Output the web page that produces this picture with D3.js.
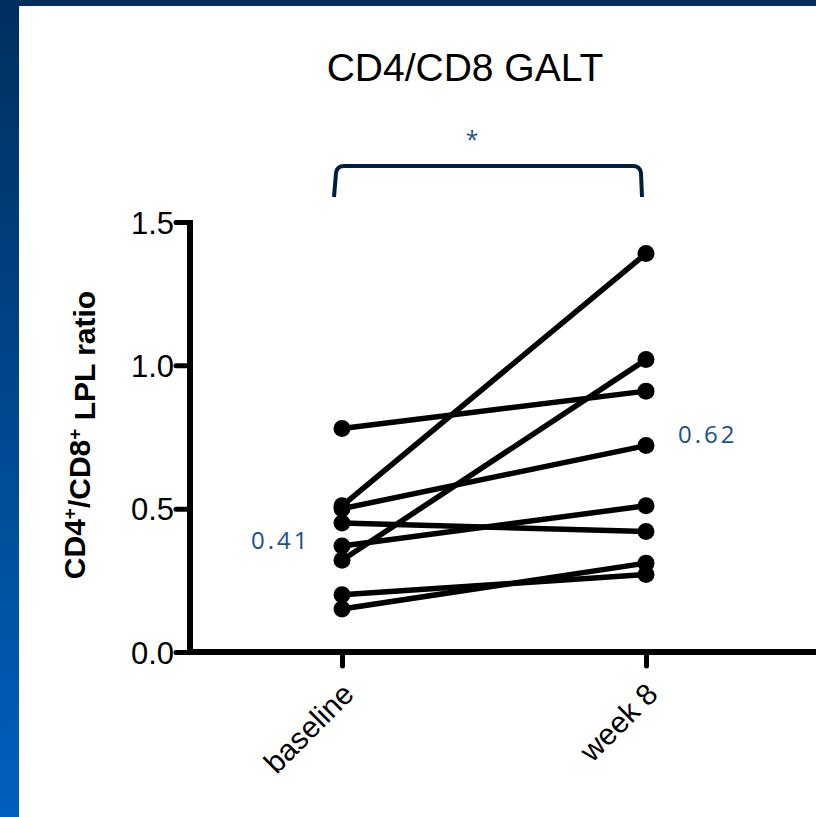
<!DOCTYPE html>
<html>
<head>
<meta charset="utf-8">
<script src="https://cdn.jsdelivr.net/npm/d3@7"></script>
<style>
  body { margin: 0; background: #fff; }
  text { font-family: "Liberation Sans", Arial, sans-serif; }
  .note { font-family: "Open Sans", "DejaVu Sans", sans-serif; fill: #1d4f8a; }
</style>
</head>
<body>
<div id="chart"></div>
<script>
// categories and paired values
const timepoints = ['baseline', 'week 8'];
const baselineValues = [0.78, 0.51, 0.50, 0.45, 0.37, 0.32, 0.20, 0.15];
const week8Values = [0.91, 1.39, 0.72, 0.42, 0.51, 1.02, 0.27, 0.31];
const yTicks = [0, 0.5, 1.0, 1.5];
const medianLabels = ['0.41', '0.62'];

const width = 816, height = 817;

const svg = d3.select('#chart').append('svg')
    .attr('width', width)
    .attr('height', height);

// slide frame: dark top strip and a blue gradient bar on the left
const defs = svg.append('defs');
const grad = defs.append('linearGradient')
    .attr('id', 'sidebar')
    .attr('x1', '0%').attr('y1', '0%')
    .attr('x2', '0%').attr('y2', '100%');
grad.append('stop').attr('offset', '0%').attr('stop-color', '#002f5f');
grad.append('stop').attr('offset', '100%').attr('stop-color', '#0060be');

svg.append('rect').attr('x', 0).attr('y', 0).attr('width', width).attr('height', 6).attr('fill', '#002f5f');
svg.append('rect').attr('x', 0).attr('y', 0).attr('width', 19).attr('height', height).attr('fill', 'url(#sidebar)');

// scales
const x = d3.scalePoint()
    .domain(timepoints)
    .range([190, 798])
    .padding(0.5);

const y = d3.scaleLinear()
    .domain([0, 1.5])
    .range([652, 222]);

// title
svg.append('text')
    .attr('x', 465)
    .attr('y', 81)
    .attr('text-anchor', 'middle')
    .style('font-size', '39px')
    .text('CD4/CD8 GALT');

// y axis
const yAxis = svg.append('g')
    .attr('transform', 'translate(190,0)')
    .call(d3.axisLeft(y).tickValues(yTicks).tickFormat(d3.format('.1f')).tickSize(14).tickSizeOuter(0));

yAxis.select('.domain')
    .attr('stroke', '#000')
    .attr('stroke-width', 6)
    .attr('d', `M0,${y(1.5) - 2}V${y(0) + 3}`);
yAxis.selectAll('.tick line')
    .attr('stroke', '#000')
    .attr('stroke-width', 5)
    .attr('stroke-linecap', 'round');
yAxis.selectAll('.tick text')
    .attr('x', -16)
    .attr('dy', '0.36em')
    .style('font-size', '31px')
    .style('font-family', '"Liberation Sans", Arial, sans-serif')
    .attr('fill', '#000');

// x axis
const xAxis = svg.append('g')
    .attr('transform', `translate(0,${y(0)})`)
    .call(d3.axisBottom(x).tickSize(14).tickSizeOuter(0));

xAxis.select('.domain')
    .attr('stroke', '#000')
    .attr('stroke-width', 6)
    .attr('d', 'M187,0H816');
xAxis.selectAll('.tick line')
    .attr('stroke', '#000')
    .attr('stroke-width', 5)
    .attr('stroke-linecap', 'round');
xAxis.selectAll('.tick text')
    .attr('text-anchor', 'end')
    .attr('y', 0)
    .attr('dy', 0)
    .attr('transform', 'translate(13,44) rotate(-45)')
    .style('font-size', '30px')
    .style('font-family', '"Liberation Sans", Arial, sans-serif')
    .attr('fill', '#000');

// y axis title
const yTitle = svg.append('text')
    .attr('transform', 'translate(85,435) rotate(-90)')
    .attr('text-anchor', 'middle')
    .style('font-size', '30px')
    .style('font-weight', 'bold');
yTitle.append('tspan').text('CD4');
yTitle.append('tspan').attr('dy', '-0.45em').style('font-size', '19px').text('+');
yTitle.append('tspan').attr('dy', '0.45em').text('/CD8');
yTitle.append('tspan').attr('dy', '-0.45em').style('font-size', '19px').text('+');
yTitle.append('tspan').attr('dy', '0.45em').text(' LPL ratio');

// paired lines
const pairs = baselineValues.map((b, i) => [b, week8Values[i]]);

svg.append('g')
    .selectAll('line')
    .data(pairs)
    .join('line')
    .attr('x1', x(timepoints[0]))
    .attr('y1', d => y(d[0]))
    .attr('x2', x(timepoints[1]))
    .attr('y2', d => y(d[1]))
    .attr('stroke', '#000')
    .attr('stroke-width', 5.5);

const dots = svg.append('g');
timepoints.forEach((t, k) => {
    dots.selectAll(null)
        .data(pairs)
        .join('circle')
        .attr('cx', x(t))
        .attr('cy', d => y(d[k]))
        .attr('r', 8.5)
        .attr('fill', '#000');
});

// median labels
svg.append('text')
    .attr('class', 'note')
    .attr('x', 251)
    .attr('y', 549)
    .style('font-size', '24px')
    .style('letter-spacing', '3px')
    .text(medianLabels[0]);

svg.append('text')
    .attr('class', 'note')
    .attr('x', 678)
    .attr('y', 443)
    .style('font-size', '24px')
    .style('letter-spacing', '3px')
    .text(medianLabels[1]);

// significance bracket
const bx1 = x(timepoints[0]) - 8, bx2 = x(timepoints[1]) - 4;
svg.append('path')
    .attr('d', `M${bx1},197 L${bx1 + 2},173 Q${bx1 + 3},166 ${bx1 + 10},166 L${bx2 - 9},166 Q${bx2 - 2},166 ${bx2 - 1},173 L${bx2},197`)
    .attr('fill', 'none')
    .attr('stroke', '#001f3f')
    .attr('stroke-width', 4);

svg.append('text')
    .attr('class', 'note')
    .attr('x', 472)
    .attr('y', 148)
    .attr('text-anchor', 'middle')
    .style('font-size', '23px')
    .text('*');
</script>
</body>
</html>
